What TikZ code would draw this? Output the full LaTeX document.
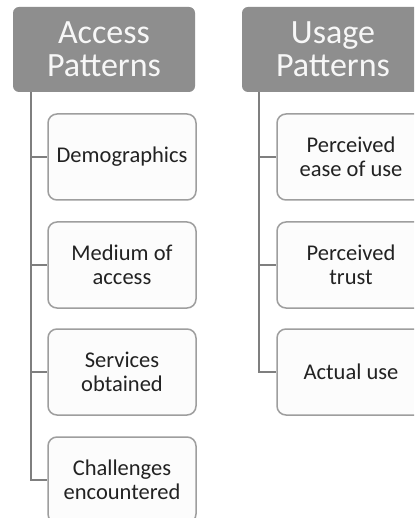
\documentclass[tikz,border=0pt]{standalone}
\usepackage{fontspec}
\setmainfont{Carlito}
\definecolor{hdrfill}{HTML}{8E8E8E}
\definecolor{hdrtext}{HTML}{F7F7F7}
\definecolor{itemfill}{HTML}{FCFCFC}
\definecolor{itemline}{HTML}{9E9E9E}
\definecolor{itemtext}{HTML}{222222}
\definecolor{linkline}{HTML}{7F7F7F}
\tikzset{
  header/.style={rounded corners=6pt, fill=hdrfill, draw=none,
    minimum width=182pt, minimum height=85pt, inner sep=0pt,
    text=hdrtext, align=center,
    font=\fontsize{34pt}{33pt}\selectfont},
  item/.style={rounded corners=9pt, fill=itemfill, draw=itemline, line width=1.5pt,
    minimum width=148pt, minimum height=86pt, inner sep=0pt,
    text=itemtext, align=center,
    font=\fontsize{22.5pt}{24.5pt}\selectfont},
  link/.style={draw=linkline, line width=1.4pt}
}
\begin{document}
\begin{tikzpicture}[x=1pt, y=-1pt]
  \useasboundingbox (0,0) rectangle (414,518);
  \clip (0,0) rectangle (414,518);
  \fill[white] (0,0) rectangle (414,518);

  % column headers
  \node[header] (hdrA) at (104,49.5) {Access\\Patterns};
  \node[header] (hdrU) at (333,49.5) {Usage\\Patterns};

  % access-pattern items
  \node[item] (a1) at (122,157) {Demographics};
  \node[item] (a2) at (122,265) {Medium of\\access};
  \node[item] (a3) at (122,372) {Services\\obtained};
  \node[item] (a4) at (122,480) {Challenges\\encountered};

  % usage-pattern items
  \node[item] (u1) at (351,157) {Perceived\\ease of use};
  \node[item] (u2) at (351,265) {Perceived\\trust};
  \node[item] (u3) at (351,372) {Actual use};

  % trunk start points under each header
  \coordinate (ta) at ([xshift=18pt]hdrA.south west);
  \coordinate (tu) at ([xshift=17pt]hdrU.south west);

  % access tree
  \draw[link] (ta) |- (a4.west);
  \draw[link] (ta |- a1.west) -- (a1.west);
  \draw[link] (ta |- a2.west) -- (a2.west);
  \draw[link] (ta |- a3.west) -- (a3.west);

  % usage tree
  \draw[link] (tu) |- (u3.west);
  \draw[link] (tu |- u1.west) -- (u1.west);
  \draw[link] (tu |- u2.west) -- (u2.west);
\end{tikzpicture}
\end{document}
